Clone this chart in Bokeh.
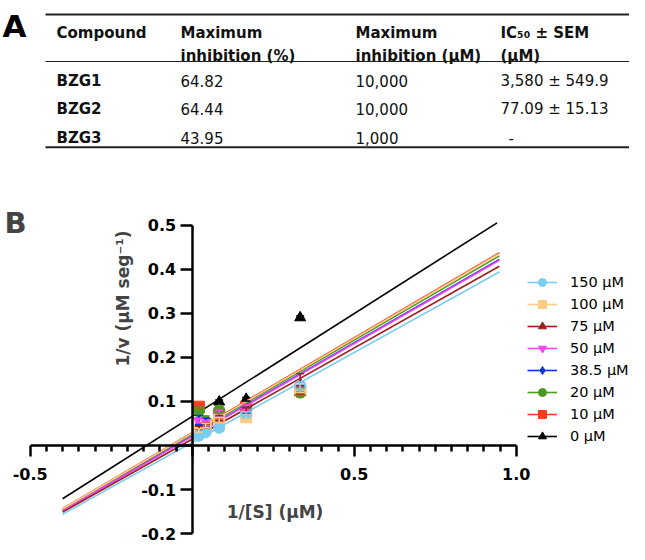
import numpy as np
from bokeh.plotting import figure
from bokeh.models import (Range1d, FixedTicker, LinearAxis, Label, Legend, LegendItem,
                          ColumnDataSource, Whisker, TeeHead, NumeralTickFormatter)
from bokeh.layouts import column
from bokeh.embed import file_html
from bokeh.resources import INLINE
from bokeh.core.properties import value

# ---------------- Data: table A ----------------
header_line1 = ["Compound", "Maximum", "Maximum", "IC₅₀ ± SEM"]
header_line2 = ["", "inhibition (%)", "inhibition (µM)", "(µM)"]
compounds = ["BZG1", "BZG2", "BZG3"]
max_inhibition_pct = ["64.82", "64.44", "43.95"]
max_inhibition_uM = ["10,000", "10,000", "1,000"]
ic50_sem = ["3,580 ± 549.9", "77.09 ± 15.13", "-"]

# ---------------- Data: panel B (Lineweaver-Burk) ----------------
inv_S = [1/48, 1/24, 1/12, 1/6, 1/3]
labels = ["150 µM", "100 µM", "75 µM", "50 µM", "38.5 µM", "20 µM", "10 µM", "0 µM"]
colors = ["#7ACDF0", "#FBCC82", "#A01C1C", "#F545F0", "#0A32E6", "#4C9A1C", "#FF3C1E", "#000000"]
markers = ["circle", "square", "triangle", "inverted_triangle", "diamond", "circle", "square", "triangle"]

y_150 = [0.022, 0.030, 0.040, 0.072, 0.136]
y_100 = [0.034, 0.045, 0.058, 0.064, 0.130]
y_75 = [0.040, 0.045, 0.062, 0.080, 0.140]
y_50 = [0.056, 0.050, 0.067, 0.086, 0.132]
y_38_5 = [0.058, 0.052, 0.060, 0.080, 0.128]
y_20 = [0.078, 0.055, 0.080, 0.085, 0.120]
y_10 = [0.088, 0.048, 0.070, 0.088, 0.125]
y_0 = [0.041, 0.045, 0.099, 0.105, 0.290]
values = [y_150, y_100, y_75, y_50, y_38_5, y_20, y_10, y_0]

sem_150 = [0.003, 0.003, 0.004, 0.004, 0.008]
sem_100 = [0.004, 0.005, 0.006, 0.005, 0.010]
sem_75 = [0.004, 0.005, 0.006, 0.006, 0.023]
sem_50 = [0.005, 0.006, 0.013, 0.006, 0.010]
sem_38_5 = [0.010, 0.010, 0.006, 0.006, 0.008]
sem_20 = [0.004, 0.012, 0.006, 0.005, 0.010]
sem_10 = [0.004, 0.005, 0.010, 0.005, 0.008]
sem_0 = [0.004, 0.004, 0.004, 0.004, 0.004]
sems = [sem_150, sem_100, sem_75, sem_50, sem_38_5, sem_20, sem_10, sem_0]

# fitted lines (slope, intercept) and x-extent of each fit
fit_slope = [0.4076, 0.4295, 0.4136, 0.4214, 0.4225, 0.4266, 0.4303, 0.4666]
fit_intercept = [0.0070, 0.0278, 0.0144, 0.0206, 0.0215, 0.0256, 0.0291, 0.0659]
fit_x_start = [-0.4, -0.4, -0.4, -0.4, -0.4, -0.4, -0.4, -0.4]
fit_x_end = [0.948, 0.948, 0.948, 0.948, 0.948, 0.948, 0.948, 0.941]

x_major_ticks = [-0.5, 0.0, 0.5, 1.0]
x_minor_ticks = [-0.45, -0.4, -0.35, -0.3, -0.25, -0.2, -0.15, -0.1, -0.05,
                 0.05, 0.1, 0.15, 0.2, 0.25, 0.3, 0.35, 0.4, 0.45,
                 0.55, 0.6, 0.65, 0.7, 0.75, 0.8, 0.85, 0.9, 0.95]
y_major_ticks = [-0.2, -0.1, 0.0, 0.1, 0.2, 0.3, 0.4, 0.5]

FONT = "DejaVu Sans"
W = 629
H_TABLE = 160
H_CHART = 384
TXT = "#111111"

# ---------------- Table figure ----------------
t = figure(width=W, height=H_TABLE, x_range=Range1d(0, W), y_range=Range1d(H_TABLE, 0),
           output_backend="svg", toolbar_location=None, min_border=0,
           x_axis_type=None, y_axis_type=None)
t.outline_line_color = None
t.xgrid.visible = False
t.ygrid.visible = False

t.text(x=[2], y=[25], text=["A"], text_font=value(FONT), text_font_style="bold",
       text_font_size="31px", text_baseline="alphabetic", text_color="black")

col_x = [56, 180, 355, 500]
t.segment(x0=[45], y0=[14], x1=[W], y1=[14], line_color="#222222", line_width=2)
t.segment(x0=[45], y0=[61], x1=[W], y1=[61], line_color="#222222", line_width=1)
t.segment(x0=[45], y0=[146.7], x1=[W], y1=[146.7], line_color="#222222", line_width=2)

t.text(x=col_x, y=[32.7] * 4, text=header_line1, text_font=value(FONT), text_font_style="bold",
       text_font_size="15px", text_baseline="alphabetic", text_color=TXT)
t.text(x=col_x, y=[55] * 4, text=header_line2, text_font=value(FONT), text_font_style="bold",
       text_font_size="15px", text_baseline="alphabetic", text_color=TXT)

row_y = [80, 108.3, 137.7]
t.text(x=[col_x[0]] * 3, y=row_y, text=compounds, text_font=value(FONT), text_font_style="bold",
       text_font_size="15px", text_baseline="alphabetic", text_color=TXT)
t.text(x=[col_x[1]] * 3, y=row_y, text=max_inhibition_pct, text_font=value(FONT),
       text_font_size="15px", text_baseline="alphabetic", text_color=TXT)
t.text(x=[col_x[2]] * 3, y=row_y, text=max_inhibition_uM, text_font=value(FONT),
       text_font_size="15px", text_baseline="alphabetic", text_color=TXT)
t.text(x=[col_x[3], col_x[3], col_x[3] + 8], y=row_y, text=ic50_sem, text_font=value(FONT),
       text_font_size="15px", text_baseline="alphabetic", text_color=TXT)

# ---------------- Chart figure ----------------
PX_X = 324.0          # pixels per x unit
PX_Y = 441.0          # pixels per y unit
ZERO_X = 191.7        # canvas x of x = 0
ZERO_Y = 445.0        # page y of y = 0
X0 = -ZERO_X / PX_X
X1 = X0 + W / PX_X
Y1 = (ZERO_Y - H_TABLE) / PX_Y
Y0 = Y1 - H_CHART / PX_Y


def dx(px):
    return (px - ZERO_X) / PX_X


def dy(py):
    return (ZERO_Y - py) / PX_Y


p = figure(width=W, height=H_CHART, x_range=Range1d(X0, X1), y_range=Range1d(Y0, Y1),
           output_backend="svg", toolbar_location=None, min_border=0,
           x_axis_type=None, y_axis_type=None)
p.outline_line_color = None
p.xgrid.visible = False
p.ygrid.visible = False

xaxis = LinearAxis(fixed_location=0, bounds=(-0.5, 1.0),
                   ticker=FixedTicker(ticks=x_major_ticks, minor_ticks=x_minor_ticks))
yaxis = LinearAxis(fixed_location=0, bounds=(-0.2, 0.5),
                   ticker=FixedTicker(ticks=y_major_ticks))
for ax in (xaxis, yaxis):
    ax.formatter = NumeralTickFormatter(format="0.0")
    ax.axis_line_width = 2.5
    ax.axis_line_color = "black"
    ax.major_tick_line_width = 2.5
    ax.minor_tick_line_width = 2.5
    ax.major_tick_in = 0
    ax.minor_tick_in = 0
    ax.major_label_text_font = FONT
    ax.major_label_text_font_style = "bold"
    ax.major_label_text_font_size = "16px"
    ax.major_label_text_color = "black"
    ax.major_label_overrides = {0: ""}
xaxis.major_tick_out = 11
xaxis.minor_tick_out = 6
xaxis.major_label_standoff = 11
yaxis.major_tick_out = 12
yaxis.minor_tick_out = 0
yaxis.major_label_standoff = 4
p.add_layout(xaxis, "below")
p.add_layout(yaxis, "left")

legend_items = {}
order = list(range(len(labels)))[::-1]
for i in order:
    col = colors[i]
    xs_line = [fit_x_start[i], fit_x_end[i]]
    ys_line = [fit_intercept[i] + fit_slope[i] * xv for xv in xs_line]
    lr = p.line(xs_line, ys_line, line_color=col, line_width=1.6)
    src = ColumnDataSource(dict(x=inv_S, y=values[i],
                                lo=[v - e for v, e in zip(values[i], sems[i])],
                                hi=[v + e for v, e in zip(values[i], sems[i])]))
    p.add_layout(Whisker(source=src, base="x", lower="lo", upper="hi", line_color=col,
                         line_width=1.5, level="glyph",
                         upper_head=TeeHead(size=8, line_color=col, line_width=1.5),
                         lower_head=TeeHead(size=8, line_color=col, line_width=1.5)))
    size = 9 if markers[i] == "diamond" else 11
    sr = p.scatter("x", "y", source=src, marker=markers[i], size=size,
                   fill_color=col, line_color=col)
    legend_items[i] = [lr, sr]

legend = Legend(items=[LegendItem(label=labels[i], renderers=legend_items[i]) for i in range(len(labels))],
                location=(527, 98), orientation="vertical")
legend.glyph_width = 30
legend.glyph_height = 20
legend.label_height = 20
legend.label_standoff = 13
legend.spacing = 2
legend.padding = 0
legend.margin = 0
legend.border_line_alpha = 0
legend.background_fill_alpha = 0
legend.label_text_font = FONT
legend.label_text_font_size = "14.5px"
legend.label_text_color = "black"
p.add_layout(legend)

p.add_layout(Label(x=dx(4), y=dy(222.7), text="B", text_font=FONT,
                   text_font_style="bold", text_font_size="29px", text_baseline="alphabetic"))
p.add_layout(Label(x=dx(122.5), y=dy(298), text="1/v (µM seg⁻¹)",
                   angle=np.pi / 2, text_align="center", text_baseline="middle",
                   text_font=FONT, text_font_style="bold", text_font_size="17px"))
p.add_layout(Label(x=dx(274.5), y=dy(511), text="1/[S] (µM)",
                   text_align="center", text_baseline="middle",
                   text_font=FONT, text_font_style="bold", text_font_size="17px"))

layout = column(t, p, spacing=0)
open("out.html", "w").write(file_html(layout, INLINE))
